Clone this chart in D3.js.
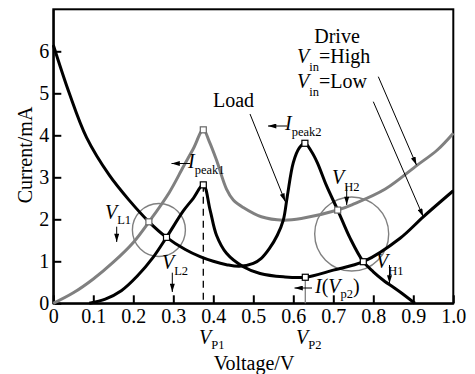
<!DOCTYPE html>
<html><head><meta charset="utf-8">
<script src="https://cdn.jsdelivr.net/npm/d3@7"></script>
<style>html,body{margin:0;padding:0;background:#fff;}svg{display:block;}</style>
</head><body>
<svg id="c" width="475" height="374"></svg>
<script>
// ---- data ----
const xTicks = [0,0.1,0.2,0.3,0.4,0.5,0.6,0.7,0.8,0.9,1.0];
const xTickLabels = ["0","0.1","0.2","0.3","0.4","0.5","0.6","0.7","0.8","0.9","1.0"];
const yTicks = [0,1,2,3,4,5,6];
const yTickLabels = ["0","1","2","3","4","5","6"];

// Drive, Vin = High (gray)
const driveHighV = [0,0.05,0.1,0.15,0.2,0.24,0.29,0.325,0.35,0.375,0.39,0.408,0.433,0.45,0.475,0.52,0.575,0.62,0.711,0.75,0.83,0.91,0.96,1.0];
const driveHighI = [0,0.25,0.58,0.98,1.45,1.95,2.64,3.25,3.68,4.13,3.85,3.41,2.72,2.46,2.28,2.06,1.98,2.02,2.22,2.36,2.72,3.29,3.65,4.05];
// Drive, Vin = Low (black)
const driveLowV = [0.09,0.13,0.17,0.21,0.25,0.283,0.325,0.35,0.375,0.392,0.408,0.433,0.475,0.517,0.575,0.63,0.7,0.775,0.867,0.925,1.0];
const driveLowI = [0,0.1,0.3,0.65,1.1,1.57,2.2,2.5,2.82,2.22,1.62,1.19,0.87,0.71,0.63,0.62,0.79,0.99,1.55,2.06,2.68];
// Load (black)
const loadV = [0,0.04,0.083,0.14,0.19,0.239,0.283,0.33,0.367,0.4,0.433,0.465,0.5,0.52,0.54,0.56,0.575,0.585,0.6,0.615,0.629,0.645,0.66,0.683,0.711,0.742,0.775,0.8,0.825,0.867,0.904];
const loadI = [6.15,5.0,3.95,3.05,2.45,1.94,1.57,1.28,1.11,1.0,0.92,0.88,0.95,1.07,1.3,1.62,1.98,2.55,3.35,3.7,3.81,3.62,3.35,2.8,2.22,1.55,0.99,0.75,0.55,0.27,0];

// marked points
const markV = [0.375,0.375,0.629,0.239,0.283,0.711,0.775,0.63];
const markI = [4.13,2.82,3.81,1.94,1.57,2.22,0.99,0.62];
const markGray = [true,false,false,true,false,true,false,false];

// ---- drawing ----
const svg = d3.select("#c");
const FONT = "'Liberation Serif','Times New Roman',serif";
const x = d3.scaleLinear().domain([0,1]).range([53.3,453.3]);
const y = d3.scaleLinear().domain([0,7]).range([303.3,9.3]);
const GRAY = "#808080";

const defs = svg.append("defs");
defs.append("marker").attr("id","ah").attr("viewBox","0 0 10 6").attr("refX",10).attr("refY",3)
  .attr("markerWidth",9).attr("markerHeight",5).attr("markerUnits","userSpaceOnUse").attr("orient","auto")
  .append("path").attr("d","M0,0L10,3L0,6Z").attr("fill","#000");

// frame
svg.append("rect").attr("x",x(0)).attr("y",y(7)).attr("width",x(1)-x(0)).attr("height",y(0)-y(7))
  .attr("fill","none").attr("stroke","#000").attr("stroke-width",2);

const xAxis = d3.axisBottom(x).tickValues(xTicks).tickFormat((d,i)=>xTickLabels[i]).tickSizeInner(-8).tickSizeOuter(0).tickPadding(6);
const gx = svg.append("g").attr("transform",`translate(0,${y(0)})`).call(xAxis);
const yAxis = d3.axisLeft(y).tickValues(yTicks).tickFormat((d,i)=>yTickLabels[i]).tickSizeInner(-8).tickSizeOuter(0).tickPadding(4);
const gy = svg.append("g").attr("transform",`translate(${x(0)},0)`).call(yAxis);
[gx,gy].forEach(g=>{
  g.attr("font-family",null);
  g.select(".domain").attr("stroke","#000").attr("stroke-width",2);
  g.selectAll(".tick line").attr("stroke","#000").attr("stroke-width",2);
  g.selectAll(".tick text").attr("fill","#000").style("font-family",FONT).style("font-size","20px");
});

// vertical helper lines
svg.append("line").attr("x1",x(markV[1])).attr("x2",x(markV[1])).attr("y1",y(markI[1])).attr("y2",y(0))
  .attr("stroke","#000").attr("stroke-width",1.3).attr("stroke-dasharray","7,5");
svg.append("line").attr("x1",x(markV[7])).attr("x2",x(markV[7])).attr("y1",y(markI[7])).attr("y2",y(0))
  .attr("stroke",GRAY).attr("stroke-width",1.3);

// circles
svg.append("circle").attr("cx",x(0.264)).attr("cy",y(1.745)).attr("r",26.5)
  .attr("fill","none").attr("stroke",GRAY).attr("stroke-width",1.4);
svg.append("circle").attr("cx",x(0.746)).attr("cy",y(1.65)).attr("r",37)
  .attr("fill","none").attr("stroke",GRAY).attr("stroke-width",1.4);

const line = d3.line().x(d=>x(d[0])).y(d=>y(d[1])).curve(d3.curveCatmullRom.alpha(0.5));
const zip = (a,b)=>a.map((v,i)=>[v,b[i]]);
svg.append("path").attr("d",line(zip(driveHighV,driveHighI))).attr("fill","none").attr("stroke",GRAY).attr("stroke-width",3);
svg.append("path").attr("d",line(zip(driveLowV,driveLowI))).attr("fill","none").attr("stroke","#000").attr("stroke-width",3);
svg.append("path").attr("d",line(zip(loadV,loadI))).attr("fill","none").attr("stroke","#000").attr("stroke-width",3);

// square markers
svg.selectAll("rect.mk").data(markV.map((v,i)=>[v,markI[i],markGray[i]])).enter().append("rect")
  .attr("class","mk").attr("x",d=>x(d[0])-3).attr("y",d=>y(d[1])-3).attr("width",6).attr("height",6)
  .attr("fill","#fff").attr("stroke",d=>d[2]?"#666":"#000").attr("stroke-width",1.2);

// arrows
function arrow(x1,y1,x2,y2){
  svg.append("line").attr("x1",x1).attr("y1",y1).attr("x2",x2).attr("y2",y2)
    .attr("stroke","#000").attr("stroke-width",1).attr("marker-end","url(#ah)");
}
arrow(378.3,76.7,x(0.908),y(3.29));
arrow(373.3,101.7,x(0.925),y(2.06));
arrow(250,114,x(0.58),y(2.42));
arrow(190,163.5,171.5,163.5);
arrow(287,126,268,126);
arrow(116.7,226.7,116.7,242);
arrow(172.3,272.7,172.3,292);
arrow(346.7,186.7,346.7,205);
arrow(389.5,265,389.5,283.5);
arrow(312,288,294.5,288);

// text helpers
function txt(xp,yp,s,opt={}){
  return svg.append("text").attr("x",xp).attr("y",yp).style("font-family",FONT)
    .style("font-size",(opt.size||20)+"px").attr("text-anchor",opt.anchor||"start").attr("fill","#000").text(s);
}
function sub(xp,yp,main,s,after,subDy=7){
  const t = svg.append("text").attr("x",xp).attr("y",yp).style("font-family",FONT).style("font-size","20px").attr("fill","#000");
  t.append("tspan").style("font-style","italic").text(main);
  t.append("tspan").attr("dy",subDy).style("font-size","12.5px").text(s);
  if(after) t.append("tspan").attr("dy",-subDy).text(after);
  return t;
}

// axis titles
svg.append("text").attr("transform","translate(32,155) rotate(-90)").attr("text-anchor","middle")
  .style("font-family",FONT).style("font-size","20px").text("Current/mA");
txt(254,370,"Voltage/V",{anchor:"middle"});

txt(337,43,"Drive",{anchor:"middle"});
sub(297,63,"V","in","=High",8);
sub(297,88,"V","in","=Low",8);
txt(213,107,"Load");
sub(188,168,"I","peak1",null,6);
sub(285,130,"I","peak2",null,6);
sub(105,219,"V","L1",null,5);
sub(162,269,"V","L2",null,6);
sub(332,184,"V","H2",null,7);
sub(376,268,"V","H1",null,7);
sub(199,344,"V","P1",null,5);
sub(296,344,"V","P2",null,5);
// I(Vp2)
const iv = svg.append("text").attr("x",315).attr("y",293).style("font-family",FONT).style("font-size","20px");
iv.append("tspan").style("font-style","italic").text("I");
iv.append("tspan").text("(");
iv.append("tspan").style("font-style","italic").text("V");
iv.append("tspan").attr("dy",5).style("font-size","12.5px").text("p2");
iv.append("tspan").attr("dy",-5).text(")");
</script>
</body></html>
